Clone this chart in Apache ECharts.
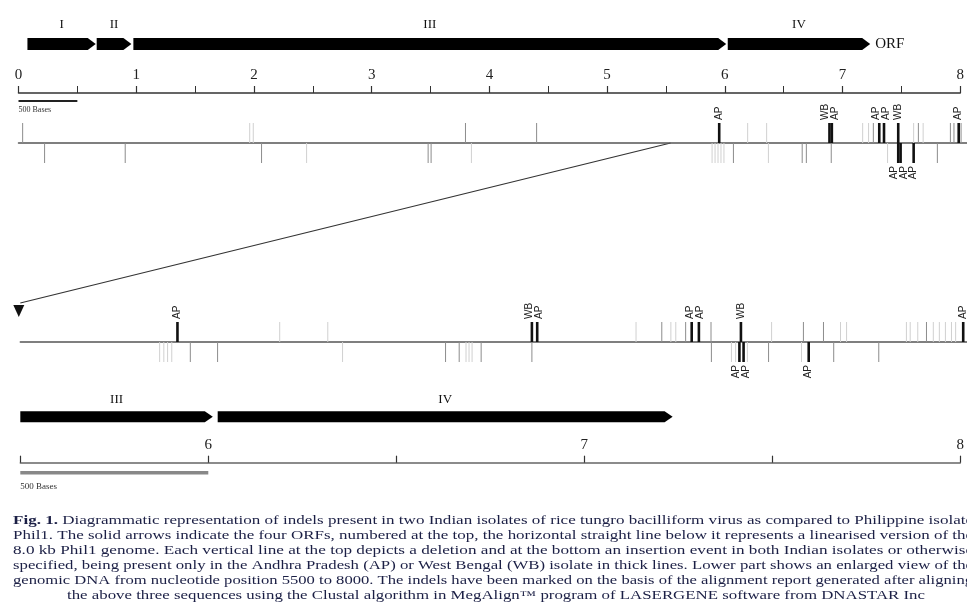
<!DOCTYPE html>
<html><head><meta charset="utf-8">
<script src="https://cdn.jsdelivr.net/npm/echarts@6/dist/echarts.min.js"></script>
<style>html,body{margin:0;padding:0;background:#fff}#c{width:967px;height:616px}</style>
</head><body><div id="c"></div>
<script>
// ---------------- DATA ----------------
// ORFs of the 8.0 kb Phil1 genome (kb)
const orfNames = ['I', 'II', 'III', 'IV'];
const orfStart = [0.076, 0.664, 0.976, 6.025];
const orfEnd   = [0.656, 0.959, 6.012, 7.235];
// tick labels
const genomeTickLabels = ['0', '1', '2', '3', '4', '5', '6', '7', '8'];
const zoomTickLabels = ['6', '7', '8'];
const genomeRange = [0, 8];
const zoomRange = [5.5, 8.0];
const scaleBarKb = 0.5;
const scaleBarText = '500 Bases';
// indels: [position kb, weight (0 faint, 1 thin, 2 thick), isolate]
const genomeDeletions = [
  [0.035, 1, ''], [1.95, 0, ''], [1.98, 0, ''], [3.77, 1, ''], [4.37, 1, ''],
  [5.91, 2, 'AP'], [6.15, 0, ''], [6.31, 0, ''], [6.84, 2, 'WB'], [6.86, 2, 'AP'],
  [7.12, 0, ''], [7.17, 0, ''], [7.21, 1, ''], [7.26, 2, 'AP'], [7.30, 2, 'AP'],
  [7.42, 2, 'WB'], [7.55, 0, ''], [7.59, 1, ''], [7.63, 0, ''],
  [7.86, 1, ''], [7.89, 1, ''], [7.93, 2, 'AP'], [7.95, 1, '']
];
const genomeInsertions = [
  [0.22, 1, ''], [0.90, 1, ''], [2.05, 1, ''], [2.43, 0, ''], [3.455, 1, ''], [3.48, 1, ''],
  [3.82, 0, ''], [5.85, 0, ''], [5.875, 0, ''], [5.90, 0, ''], [5.925, 0, ''], [5.95, 0, ''],
  [6.03, 1, ''], [6.325, 0, ''], [6.61, 1, ''], [6.645, 1, ''], [6.855, 1, ''],
  [7.33, 0, ''], [7.42, 2, 'AP'], [7.44, 2, 'AP'], [7.55, 2, 'AP'], [7.75, 1, '']
];
const zoomDeletions = [
  [5.915, 2, 'AP'], [6.185, 0, ''], [6.312, 0, ''], [6.851, 2, 'WB'], [6.865, 2, 'AP'],
  [7.126, 0, ''], [7.194, 1, ''], [7.218, 0, ''], [7.231, 0, ''], [7.257, 1, ''],
  [7.273, 2, 'AP'], [7.292, 2, 'AP'], [7.324, 1, ''], [7.403, 2, 'WB'], [7.484, 0, ''],
  [7.568, 1, ''], [7.621, 1, ''], [7.666, 0, ''], [7.682, 0, ''],
  [7.84, 0, ''], [7.85, 0, ''], [7.87, 0, ''], [7.893, 1, ''],
  [7.911, 0, ''], [7.927, 0, ''], [7.943, 0, ''], [7.959, 0, ''], [7.97, 0, ''], [7.99, 2, 'AP']
];
const zoomInsertions = [
  [5.868, 0, ''], [5.879, 0, ''], [5.889, 0, ''], [5.90, 0, ''], [5.949, 1, ''], [6.021, 1, ''],
  [6.351, 0, ''], [6.623, 1, ''], [6.659, 1, ''], [6.677, 0, ''], [6.685, 0, ''], [6.693, 0, ''],
  [6.717, 1, ''], [6.851, 1, ''], [7.325, 1, ''], [7.378, 0, ''], [7.389, 0, ''],
  [7.399, 2, 'AP'], [7.41, 2, 'AP'], [7.42, 0, ''], [7.476, 1, ''], [7.563, 0, ''],
  [7.582, 2, 'AP'], [7.648, 1, ''], [7.767, 1, '']
];
const captionLead = 'Fig. 1.';
const captionLines = [
  'Diagrammatic representation of indels present in two Indian isolates of rice tungro bacilliform virus as compared to Philippine isolate',
  'Phil1. The solid arrows indicate the four ORFs, numbered at the top, the horizontal straight line below it represents a linearised version of the',
  '8.0 kb Phil1 genome. Each vertical line at the top depicts a deletion and at the bottom an insertion event in both Indian isolates or otherwise',
  'specified, being present only in the Andhra Pradesh (AP) or West Bengal (WB) isolate in thick lines. Lower part shows an enlarged view of the',
  'genomic DNA from nucleotide position 5500 to 8000. The indels have been marked on the basis of the alignment report generated after aligning',
  'the above three sequences using the Clustal algorithm in MegAlign\u2122 program of LASERGENE software from DNASTAR Inc'
];

// ---------------- STYLE ----------------
const SERIF = '"Liberation Serif", "DejaVu Serif", serif';
const SANS = '"Liberation Sans", Arial, sans-serif';
const LINE_COL = ['#d0d0d0', '#8c8c8c', '#111'];
const LINE_W = [1, 1, 2.6];

function spread(xs, gap) {
  const idx = xs.map((x, i) => i).sort((a, b) => xs[a] - xs[b]);
  const out = xs.slice();
  const clusters = [];
  idx.forEach(i => {
    const last = clusters[clusters.length - 1];
    if (last && xs[i] - xs[last[last.length - 1]] < gap) last.push(i); else clusters.push([i]);
  });
  clusters.forEach(c => {
    const m = c.reduce((s, i) => s + xs[i], 0) / c.length;
    c.forEach((i, k) => { out[i] = m + (k - (c.length - 1) / 2) * gap; });
  });
  return out;
}

function indelSeries(data, side, ai) {
  return {
    type: 'custom', xAxisIndex: ai, yAxisIndex: ai, silent: true, clip: false,
    data: data.map(d => [d[0], side, d[1]]),
    renderItem: (params, api) => {
      const x = api.value(0), s = api.value(1), w = api.value(2);
      const a = api.coord([x, 0]), b = api.coord([x, s]);
      return { type: 'line', shape: { x1: a[0], y1: a[1], x2: b[0], y2: b[1] },
        style: { stroke: LINE_COL[w], lineWidth: LINE_W[w] }, z2: w };
    }
  };
}

function labelSeries(data, side, ai) {
  const items = data.filter(d => d[2]);
  return {
    type: 'custom', xAxisIndex: ai, yAxisIndex: ai, silent: true, clip: false,
    data: items.map((d, i) => [d[0], side, i]),
    renderItem: (params, api) => {
      const i = api.value(2);
      const xs = items.map(d => api.coord([d[0], 0])[0]);
      const sx = spread(xs, 10);
      const end = api.coord([items[i][0], side]);
      return { type: 'text', x: sx[i], y: end[1] + (side > 0 ? -3 : 3), rotation: Math.PI / 2,
        style: { text: items[i][2], align: side > 0 ? 'left' : 'right', verticalAlign: 'middle',
          font: '10px ' + SANS, fill: '#222' } };
    }
  };
}

function orfSeries(ai, minKb, rise, h, labelRise, withOrf) {
  const rows = [];
  orfNames.forEach((n, i) => { if (orfEnd[i] > minKb) rows.push([Math.max(orfStart[i], minKb), orfEnd[i], i]); });
  return {
    type: 'custom', xAxisIndex: ai, yAxisIndex: ai, silent: true, clip: false,
    data: rows,
    renderItem: (params, api) => {
      const s = api.value(0), e = api.value(1), i = api.value(2);
      const p0 = api.coord([s, 0]), p1 = api.coord([e, 0]);
      const yc = p0[1] - rise, hl = 8;
      const children = [
        { type: 'polygon', shape: { points: [[p0[0], yc - h / 2], [p1[0] - hl, yc - h / 2], [p1[0], yc],
          [p1[0] - hl, yc + h / 2], [p0[0], yc + h / 2]] }, style: { fill: '#000' } },
        { type: 'text', x: (p0[0] + p1[0]) / 2, y: yc - labelRise,
          style: { text: orfNames[i], align: 'center', verticalAlign: 'middle', font: '13px ' + SERIF, fill: '#111' } }
      ];
      if (withOrf && i === orfNames.length - 1) {
        children.push({ type: 'text', x: p1[0] + 5, y: yc,
          style: { text: 'ORF', align: 'left', verticalAlign: 'middle', font: '15px ' + SERIF, fill: '#111' } });
      }
      return { type: 'group', children };
    }
  };
}

function scaleBarSeries(ai, startKb, dy, color, width, textDy, fontSize) {
  return {
    type: 'custom', xAxisIndex: ai, yAxisIndex: ai, silent: true, clip: false,
    data: [[startKb, startKb + scaleBarKb]],
    renderItem: (params, api) => {
      const a = api.coord([api.value(0), 0]), b = api.coord([api.value(1), 0]);
      return { type: 'group', children: [
        { type: 'line', shape: { x1: a[0], y1: a[1] + dy, x2: b[0], y2: a[1] + dy }, style: { stroke: color, lineWidth: width } },
        { type: 'text', x: a[0], y: a[1] + textDy, style: { text: scaleBarText, align: 'left', verticalAlign: 'middle',
          font: fontSize + 'px ' + SERIF, fill: '#333' } }
      ] };
    }
  };
}

const rulerAxis = (gi, range, interval, labels, minor, color) => ({
  type: 'value', gridIndex: gi, min: range[0], max: range[1], interval: interval,
  axisLine: { show: true, onZero: false, lineStyle: { color: color, width: 1.5 } },
  axisTick: { show: true, inside: true, length: 7, lineStyle: { color: '#333', width: 1.2 } },
  minorTick: { show: minor, splitNumber: 2, length: 7, lineStyle: { color: '#333', width: 1 } },
  splitLine: { show: false },
  axisLabel: { show: true, inside: true, margin: 10, color: '#222', fontFamily: SERIF, fontSize: 15,
    showMinLabel: true, showMaxLabel: true,
    formatter: v => { const t = String(Math.round(v * 1000) / 1000); return labels.indexOf(t) >= 0 ? t : ''; } }
});
const trackAxis = (gi, range) => ({
  type: 'value', gridIndex: gi, min: range[0], max: range[1],
  axisLine: { show: true, onZero: true, lineStyle: { color: '#555', width: 1.5 } },
  axisTick: { show: false }, axisLabel: { show: false }, splitLine: { show: false }
});
const hiddenY = (gi, min, max) => ({ type: 'value', gridIndex: gi, min: min, max: max, show: false, splitLine: { show: false } });

const chart = echarts.init(document.getElementById('c'), null, { renderer: 'canvas' });
chart.setOption({
  animation: false,
  backgroundColor: '#fff',
  grid: [
    { left: 18.5, width: 953, top: 0, height: 93 },
    { left: 18.5, width: 953, top: 123, height: 40 },
    { left: 20.3, width: 948.3, top: 322, height: 40 },
    { left: 20.3, width: 948.3, top: 380, height: 82.7 }
  ],
  xAxis: [
    rulerAxis(0, genomeRange, 1, genomeTickLabels, true, '#333'),
    trackAxis(1, genomeRange),
    trackAxis(2, zoomRange),
    rulerAxis(3, zoomRange, 0.5, zoomTickLabels, false, '#666')
  ],
  yAxis: [hiddenY(0, 0, 1), hiddenY(1, -1, 1), hiddenY(2, -1, 1), hiddenY(3, 0, 1)],
  series: [
    orfSeries(0, genomeRange[0], 49, 12, 19, true),
    scaleBarSeries(0, genomeRange[0], 8, '#222', 2, 17, 8),
    indelSeries(genomeDeletions, 1, 1),
    indelSeries(genomeInsertions, -1, 1),
    labelSeries(genomeDeletions, 1, 1),
    labelSeries(genomeInsertions, -1, 1),
    indelSeries(zoomDeletions, 1, 2),
    indelSeries(zoomInsertions, -1, 2),
    labelSeries(zoomDeletions, 1, 2),
    labelSeries(zoomInsertions, -1, 2),
    orfSeries(3, zoomRange[0], 46, 11, 17, false),
    scaleBarSeries(3, zoomRange[0], 10, '#888', 3.5, 24, 9)
  ]
});

// connector arrow from 5.5 kb on the genome track to the enlarged track
const from = chart.convertToPixel({ gridIndex: 1 }, [zoomRange[0], 0]);
const to = chart.convertToPixel({ gridIndex: 2 }, [zoomRange[0], 0]);
const endY = to[1] - 39;
const graphics = [
  { type: 'line', shape: { x1: from[0], y1: from[1], x2: to[0], y2: endY }, style: { stroke: '#333', lineWidth: 1.2 } },
  { type: 'polygon', shape: { points: [[to[0] - 7, endY + 2], [to[0] + 4, endY + 2], [to[0] - 1.5, endY + 14]] }, style: { fill: '#111' } }
];

// caption, each line stretched to the justified width
const ctx = document.createElement('canvas').getContext('2d');
const CAP_SIZE = 12;
const capColor = '#1b1f45';
const lineYs = [521, 536, 551, 566, 581, 596];
captionLines.forEach((t, i) => {
  const startX = i === captionLines.length - 1 ? 67 : 13;
  const endX = i === captionLines.length - 1 ? 925 : 973;
  let w;
  let text, rich;
  if (i === 0) {
    ctx.font = 'bold ' + CAP_SIZE + 'px ' + SERIF;
    const wb = ctx.measureText(captionLead + ' ').width;
    ctx.font = CAP_SIZE + 'px ' + SERIF;
    w = wb + ctx.measureText(t).width;
    text = '{b|' + captionLead + ' }' + t;
    rich = { b: { fontWeight: 'bold', fontSize: CAP_SIZE, fontFamily: SERIF, fill: capColor } };
  } else {
    ctx.font = CAP_SIZE + 'px ' + SERIF;
    w = ctx.measureText(t).width;
    text = t;
  }
  const sx = (endX - startX) / w;
  graphics.push({ type: 'text', x: startX, y: lineYs[i], scaleX: sx, silent: true,
    style: { text: text, rich: rich, align: 'left', verticalAlign: 'middle', fontSize: CAP_SIZE, fontFamily: SERIF, fill: capColor } });
});
chart.setOption({ graphic: graphics });
</script>
</body></html>
